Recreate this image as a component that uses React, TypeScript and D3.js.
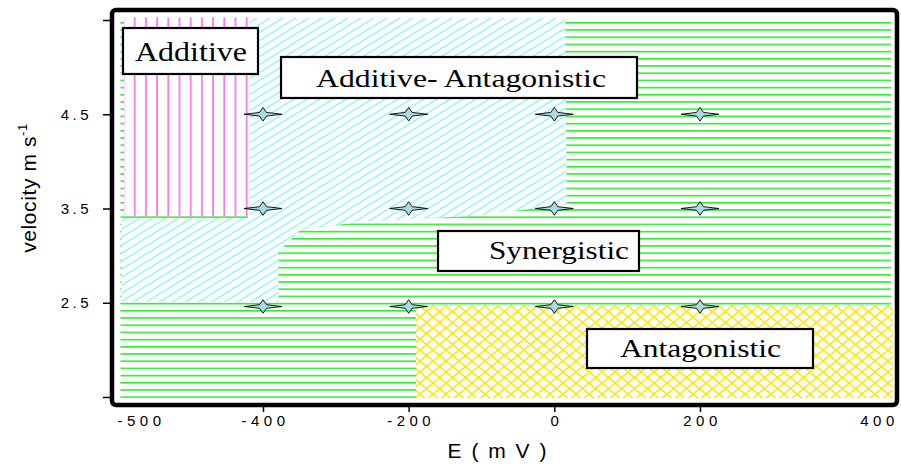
import React, { useRef, useEffect } from 'react';
import * as d3 from 'd3';

// axis ticks
const xTicks = [-500, -400, -200, 0, 200, 400];
const xTickLabels = ['-500', '-400', '-200', '0', '200', '400'];
const yTicks = [1.5, 2.5, 3.5, 4.5, 5.5];
const yTickLabels = ['', '2.5', '3.5', '4.5', ''];

// measured points
const potentials = [-400, -200, 0, 200];
const velocities = [4.5, 3.5, 2.46];

// regions, as [E (mV), velocity] corners
const synergisticRegion = [[-515, 5.48], [416, 5.48], [416, 1.49], [-515, 1.49]];
const additiveAntagonisticRegion = [
  [-412, 5.52], [15, 5.52], [17, 3.54], [-116, 3.42], [-267, 3.36], [-349, 3.27],
  [-379, 3.04], [-379, 2.51], [-514, 2.51], [-514, 3.4], [-412, 3.4],
];
const additiveRegion = [[-512, 5.53], [-411, 5.53], [-411, 3.42], [-512, 3.42]];
const antagonisticRegion = [[-190, 2.476], [418, 2.476], [418, 1.49], [-190, 1.49]];

const regionNames = ['Additive', 'Additive- Antagonistic', 'Synergistic', 'Antagonistic'];

// label box layout (px)
const boxLayout = [
  { x: 123, y: 28, w: 135, h: 46, tx: 135, tl: 112, base: 61, fs: 27 },
  { x: 281, y: 57, w: 356, h: 41, tx: 316, tl: 290, base: 87, fs: 26 },
  { x: 438, y: 231, w: 201, h: 40, tx: 489, tl: 140, base: 259, fs: 26 },
  { x: 587, y: 329, w: 226, h: 39, tx: 620, tl: 161, base: 357, fs: 26 },
];

const width = 901;
const height = 466;

const xScale = d3.scaleLinear().domain([-500, -400, 200, 400]).range([139, 263, 700, 877]);
const yScale = d3.scaleLinear().domain([1.5, 5.5]).range([397, 20]);

const line = d3
  .line<number[]>()
  .x((d) => xScale(d[0]))
  .y((d) => yScale(d[1]));
const poly = (pts: number[][]) => line(pts) + 'Z';

const star = 'M-19,0 L-3.5,-1.8 L0,-6.8 L3.5,-1.8 L19,0 L3.5,1.8 L0,6.8 L-3.5,1.8 Z';

const App = () => {
  const xAxisRef = useRef<SVGGElement>(null);
  const yAxisRef = useRef<SVGGElement>(null);

  useEffect(() => {
    const gx = d3.select(xAxisRef.current);
    gx.call(
      d3
        .axisBottom(xScale)
        .tickValues(xTicks)
        .tickSize(7)
        .tickPadding(3)
        .tickFormat((d, i) => xTickLabels[i])
    );
    gx.select('.domain').remove();
    gx.attr('font-family', 'Liberation Sans, Arial, sans-serif').attr('font-size', 15);
    gx.selectAll('.tick line')
      .attr('stroke-width', 1.5)
      .attr('stroke', (d: any) => (d === -500 || d === 400 ? 'none' : '#000'));
    gx.selectAll('.tick text').attr('letter-spacing', 4.5).attr('dx', 2).attr('fill', '#000');

    const gy = d3.select(yAxisRef.current);
    gy.call(
      d3
        .axisLeft(yScale)
        .tickValues(yTicks)
        .tickSize(7)
        .tickPadding(11)
        .tickFormat((d, i) => yTickLabels[i])
    );
    gy.select('.domain').remove();
    gy.attr('font-family', 'Liberation Sans, Arial, sans-serif').attr('font-size', 15);
    gy.selectAll('.tick line').attr('stroke-width', 1.5);
    gy.selectAll('.tick text').attr('letter-spacing', 3.5).attr('fill', '#000');
  }, []);

  return (
    <svg width={width} height={height} style={{ position: 'absolute', left: 0, top: 0, background: '#fff' }}>
      <defs>
        <pattern id="green" patternUnits="userSpaceOnUse" width={10} height={7.2} y={22}>
          <line x1={0} x2={10} y1={0.8} y2={0.8} stroke="#10e810" strokeWidth={1.4} />
        </pattern>
        <pattern id="cyan" patternUnits="userSpaceOnUse" width={13} height={8}>
          <line x1={-1} y1={8.6} x2={14} y2={-0.6} stroke="#88f4ff" strokeWidth={1.3} />
          <line x1={-14} y1={8.6} x2={1} y2={-0.6} stroke="#88f4ff" strokeWidth={1.3} />
          <line x1={12} y1={8.6} x2={27} y2={-0.6} stroke="#88f4ff" strokeWidth={1.3} />
        </pattern>
        <pattern id="magenta" patternUnits="userSpaceOnUse" width={11.2} height={10} x={122.5}>
          <line x1={1} x2={1} y1={0} y2={10} stroke="#ff66f0" strokeWidth={1.6} />
        </pattern>
        <pattern id="yellow" patternUnits="userSpaceOnUse" width={13} height={11} x={420} y={306}>
          <line x1={0} y1={0} x2={13} y2={11} stroke="#ffe600" strokeWidth={1.4} />
          <line x1={13} y1={0} x2={0} y2={11} stroke="#ffe600" strokeWidth={1.4} />
        </pattern>
      </defs>

      {/* regions */}
      <path d={poly(synergisticRegion)} fill="url(#green)" />
      <path d={poly(additiveAntagonisticRegion)} fill="#fff" />
      <path d={poly(additiveAntagonisticRegion)} fill="url(#cyan)" />
      <path d={poly(additiveRegion)} fill="#fff" />
      <path d={poly(additiveRegion)} fill="url(#magenta)" />
      <path d={poly(antagonisticRegion)} fill="#fff" />
      <path d={poly(antagonisticRegion)} fill="url(#yellow)" />

      {/* measured points */}
      {velocities.map((v) =>
        potentials.map((e) => (
          <path
            key={`${e}_${v}`}
            d={star}
            transform={`translate(${xScale(e)},${yScale(v)})`}
            fill="#a9dbe3"
            stroke="#000"
            strokeWidth={0.9}
          />
        ))
      )}

      {/* region labels */}
      {regionNames.map((name, i) => {
        const b = boxLayout[i];
        return (
          <g key={name}>
            <rect x={b.x} y={b.y} width={b.w} height={b.h} fill="#fff" stroke="#000" strokeWidth={2.2} />
            <text
              x={b.tx}
              y={b.base}
              fontFamily="Liberation Serif, Times New Roman, serif"
              fontSize={b.fs}
              textLength={b.tl}
              lengthAdjust="spacingAndGlyphs"
            >
              {name}
            </text>
          </g>
        );
      })}

      {/* frame */}
      <rect x={112} y={10} width={785} height={395} rx={4} fill="none" stroke="#000" strokeWidth={4.5} />

      <g ref={xAxisRef} transform="translate(0,405)" />
      <g ref={yAxisRef} transform="translate(110,0)" />

      <text
        x={498}
        y={458}
        textAnchor="middle"
        fontFamily="Liberation Sans, Arial, sans-serif"
        fontSize={21}
        letterSpacing={2}
      >
        E ( m V )
      </text>
      <text
        transform="translate(36,188) rotate(-90)"
        textAnchor="middle"
        fontFamily="Liberation Sans, Arial, sans-serif"
        fontSize={21}
        letterSpacing={0.6}
      >
        velocity m s<tspan fontSize={13} dy={-9}>-1</tspan>
      </text>
    </svg>
  );
};

export default App;
